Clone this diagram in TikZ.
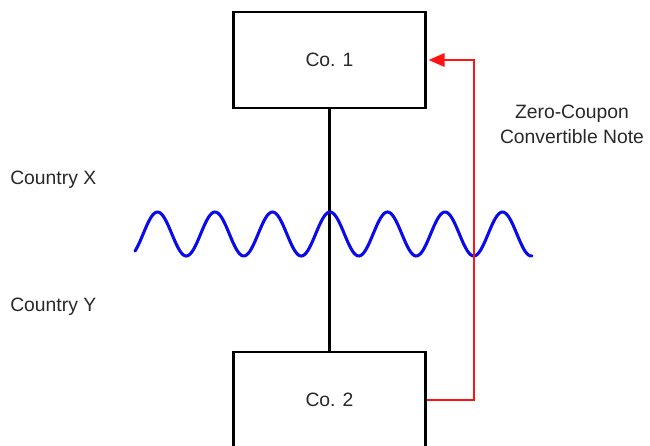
\documentclass[tikz,border=0pt]{standalone}
\usepackage{fontspec}
\setmainfont{Liberation Sans}
\usetikzlibrary{arrows.meta}
\definecolor{txt}{RGB}{40,40,40}
\definecolor{wavec}{RGB}{10,10,235}
\definecolor{redc}{RGB}{255,20,20}
\begin{document}
\begin{tikzpicture}[x=0.75pt,y=-0.75pt,
  company/.style={draw=black,line width=1.6pt,minimum width=144pt,minimum height=71.5pt,inner sep=0pt,font=\fontsize{14.5}{17}\selectfont,text=txt},
  lbl/.style={font=\fontsize{14.5}{17}\selectfont,text=txt,inner sep=0pt},
  own/.style={draw=black,line width=1.6pt},
  flow/.style={draw=redc,line width=1.6pt,-{Triangle[length=12pt,width=10pt]}}]
\useasboundingbox (0,0) rectangle (650,446);
\clip (0,0) rectangle (650,446);
\node[company] (co1) at (329.5,60) {Co. 1};
\node[company] (co2) at (329.5,400) {Co. 2};
\draw[own] (co1.south) -- (co2.north);
\draw[wavec,line width=2.3pt,line cap=round] plot[domain=135:532,samples=240,smooth] (\x,{234-22*cos(((\x-330)/57.5)*360)});
\coordinate (c1) at (474,400);
\coordinate (c2) at (474,60);
\draw[flow,line join=miter] (co2.east) -- (c1) -- (c2) -- ([xshift=1.5pt]co1.east);
\node[lbl,align=center,font=\fontsize{14.5}{18.75}\selectfont] (note) at (572,124) {Zero-Coupon\\Convertible Note};
\node[lbl,anchor=west] (cx) at (10,180) {Country X};
\node[lbl,anchor=west] (cy) at (10,307) {Country Y};
\end{tikzpicture}
\end{document}
